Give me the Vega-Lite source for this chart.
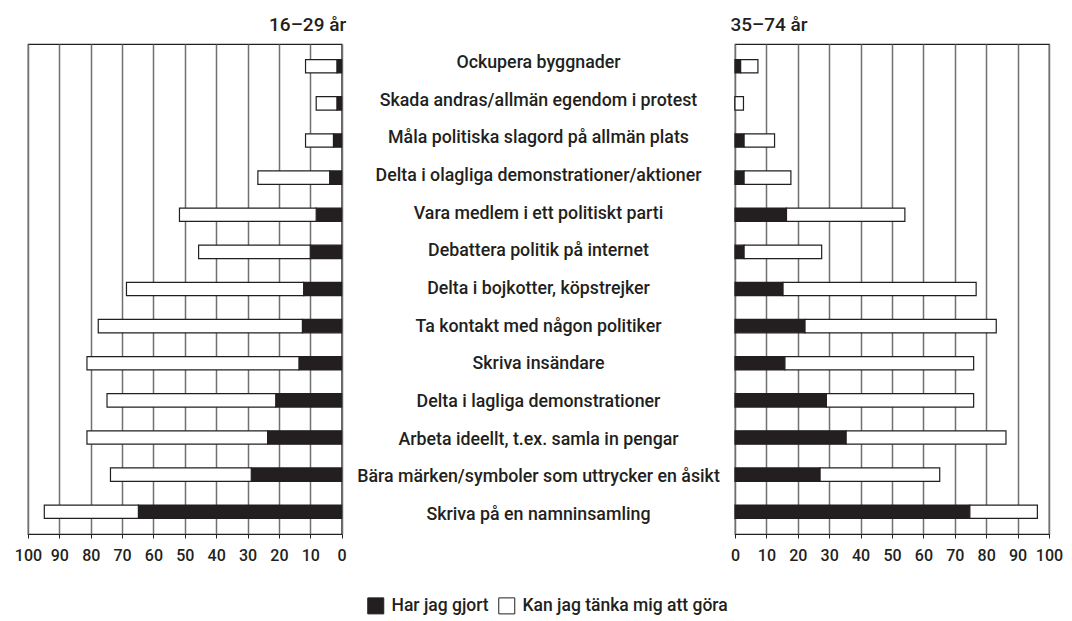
{
  "$schema": "https://vega.github.io/schema/vega-lite/v6.json",
  "padding": {"left": 13, "top": 15, "right": 5, "bottom": 0},
  "background": "white",
  "bounds": "flush",
  "spacing": 0,
  "config": {
    "font": "Roboto",
    "view": {"stroke": "#231f20", "strokeWidth": 1.2},
    "axis": {
      "labelFont": "Roboto",
      "labelFontSize": 16,
      "labelFontWeight": 500,
      "labelColor": "#231f20",
      "labelOverlap": false,
      "labelFlush": false,
      "grid": true,
      "gridColor": "#707070",
      "gridWidth": 1.5,
      "domainColor": "#231f20",
      "domainWidth": 1.2,
      "tickColor": "#231f20",
      "tickSize": 4,
      "labelPadding": 9
    },
    "title": {"font": "Roboto", "fontSize": 19, "fontWeight": 500, "color": "#231f20"}
  },
  "datasets": {
    "rows": [
      {"aktivitet": "Ockupera byggnader", "grupp": "16–29 år", "typ": "Har jag gjort", "ordning": 1, "andel": 1.5},
      {"aktivitet": "Ockupera byggnader", "grupp": "16–29 år", "typ": "Kan jag tänka mig att göra", "ordning": 2, "andel": 10},
      {"aktivitet": "Skada andras/allmän egendom i protest", "grupp": "16–29 år", "typ": "Har jag gjort", "ordning": 1, "andel": 1.5},
      {"aktivitet": "Skada andras/allmän egendom i protest", "grupp": "16–29 år", "typ": "Kan jag tänka mig att göra", "ordning": 2, "andel": 6.6},
      {"aktivitet": "Måla politiska slagord på allmän plats", "grupp": "16–29 år", "typ": "Har jag gjort", "ordning": 1, "andel": 2.6},
      {"aktivitet": "Måla politiska slagord på allmän plats", "grupp": "16–29 år", "typ": "Kan jag tänka mig att göra", "ordning": 2, "andel": 8.9},
      {"aktivitet": "Delta i olagliga demonstrationer/aktioner", "grupp": "16–29 år", "typ": "Har jag gjort", "ordning": 1, "andel": 3.8},
      {"aktivitet": "Delta i olagliga demonstrationer/aktioner", "grupp": "16–29 år", "typ": "Kan jag tänka mig att göra", "ordning": 2, "andel": 22.9},
      {"aktivitet": "Vara medlem i ett  politiskt parti", "grupp": "16–29 år", "typ": "Har jag gjort", "ordning": 1, "andel": 8.1},
      {"aktivitet": "Vara medlem i ett  politiskt parti", "grupp": "16–29 år", "typ": "Kan jag tänka mig att göra", "ordning": 2, "andel": 43.6},
      {"aktivitet": "Debattera politik på internet", "grupp": "16–29 år", "typ": "Har jag gjort", "ordning": 1, "andel": 10},
      {"aktivitet": "Debattera politik på internet", "grupp": "16–29 år", "typ": "Kan jag tänka mig att göra", "ordning": 2, "andel": 35.6},
      {"aktivitet": "Delta i bojkotter, köpstrejker", "grupp": "16–29 år", "typ": "Har jag gjort", "ordning": 1, "andel": 12.1},
      {"aktivitet": "Delta i bojkotter, köpstrejker", "grupp": "16–29 år", "typ": "Kan jag tänka mig att göra", "ordning": 2, "andel": 56.5},
      {"aktivitet": "Ta kontakt med någon politiker", "grupp": "16–29 år", "typ": "Har jag gjort", "ordning": 1, "andel": 12.5},
      {"aktivitet": "Ta kontakt med någon politiker", "grupp": "16–29 år", "typ": "Kan jag tänka mig att göra", "ordning": 2, "andel": 65.1},
      {"aktivitet": "Skriva insändare", "grupp": "16–29 år", "typ": "Har jag gjort", "ordning": 1, "andel": 13.6},
      {"aktivitet": "Skriva insändare", "grupp": "16–29 år", "typ": "Kan jag tänka mig att göra", "ordning": 2, "andel": 67.6},
      {"aktivitet": "Delta i lagliga demonstrationer", "grupp": "16–29 år", "typ": "Har jag gjort", "ordning": 1, "andel": 21},
      {"aktivitet": "Delta i lagliga demonstrationer", "grupp": "16–29 år", "typ": "Kan jag tänka mig att göra", "ordning": 2, "andel": 53.8},
      {"aktivitet": "Arbeta ideellt, t.ex. samla in pengar", "grupp": "16–29 år", "typ": "Har jag gjort", "ordning": 1, "andel": 23.6},
      {"aktivitet": "Arbeta ideellt, t.ex. samla in pengar", "grupp": "16–29 år", "typ": "Kan jag tänka mig att göra", "ordning": 2, "andel": 57.6},
      {"aktivitet": "Bära märken/symboler som uttrycker en åsikt", "grupp": "16–29 år", "typ": "Har jag gjort", "ordning": 1, "andel": 28.8},
      {"aktivitet": "Bära märken/symboler som uttrycker en åsikt", "grupp": "16–29 år", "typ": "Kan jag tänka mig att göra", "ordning": 2, "andel": 44.9},
      {"aktivitet": "Skriva på en namninsamling", "grupp": "16–29 år", "typ": "Har jag gjort", "ordning": 1, "andel": 64.8},
      {"aktivitet": "Skriva på en namninsamling", "grupp": "16–29 år", "typ": "Kan jag tänka mig att göra", "ordning": 2, "andel": 30},

      {"aktivitet": "Ockupera byggnader", "grupp": "35–74 år", "typ": "Har jag gjort", "ordning": 1, "andel": 1.8},
      {"aktivitet": "Ockupera byggnader", "grupp": "35–74 år", "typ": "Kan jag tänka mig att göra", "ordning": 2, "andel": 5.5},
      {"aktivitet": "Skada andras/allmän egendom i protest", "grupp": "35–74 år", "typ": "Har jag gjort", "ordning": 1, "andel": 0},
      {"aktivitet": "Skada andras/allmän egendom i protest", "grupp": "35–74 år", "typ": "Kan jag tänka mig att göra", "ordning": 2, "andel": 2.7},
      {"aktivitet": "Måla politiska slagord på allmän plats", "grupp": "35–74 år", "typ": "Har jag gjort", "ordning": 1, "andel": 2.9},
      {"aktivitet": "Måla politiska slagord på allmän plats", "grupp": "35–74 år", "typ": "Kan jag tänka mig att göra", "ordning": 2, "andel": 9.7},
      {"aktivitet": "Delta i olagliga demonstrationer/aktioner", "grupp": "35–74 år", "typ": "Har jag gjort", "ordning": 1, "andel": 2.9},
      {"aktivitet": "Delta i olagliga demonstrationer/aktioner", "grupp": "35–74 år", "typ": "Kan jag tänka mig att göra", "ordning": 2, "andel": 14.9},
      {"aktivitet": "Vara medlem i ett  politiskt parti", "grupp": "35–74 år", "typ": "Har jag gjort", "ordning": 1, "andel": 16.4},
      {"aktivitet": "Vara medlem i ett  politiskt parti", "grupp": "35–74 år", "typ": "Kan jag tänka mig att göra", "ordning": 2, "andel": 37.7},
      {"aktivitet": "Debattera politik på internet", "grupp": "35–74 år", "typ": "Har jag gjort", "ordning": 1, "andel": 2.9},
      {"aktivitet": "Debattera politik på internet", "grupp": "35–74 år", "typ": "Kan jag tänka mig att göra", "ordning": 2, "andel": 24.7},
      {"aktivitet": "Delta i bojkotter, köpstrejker", "grupp": "35–74 år", "typ": "Har jag gjort", "ordning": 1, "andel": 15.3},
      {"aktivitet": "Delta i bojkotter, köpstrejker", "grupp": "35–74 år", "typ": "Kan jag tänka mig att göra", "ordning": 2, "andel": 61.5},
      {"aktivitet": "Ta kontakt med någon politiker", "grupp": "35–74 år", "typ": "Har jag gjort", "ordning": 1, "andel": 22.3},
      {"aktivitet": "Ta kontakt med någon politiker", "grupp": "35–74 år", "typ": "Kan jag tänka mig att göra", "ordning": 2, "andel": 60.9},
      {"aktivitet": "Skriva insändare", "grupp": "35–74 år", "typ": "Har jag gjort", "ordning": 1, "andel": 15.9},
      {"aktivitet": "Skriva insändare", "grupp": "35–74 år", "typ": "Kan jag tänka mig att göra", "ordning": 2, "andel": 60.1},
      {"aktivitet": "Delta i lagliga demonstrationer", "grupp": "35–74 år", "typ": "Har jag gjort", "ordning": 1, "andel": 29.1},
      {"aktivitet": "Delta i lagliga demonstrationer", "grupp": "35–74 år", "typ": "Kan jag tänka mig att göra", "ordning": 2, "andel": 46.9},
      {"aktivitet": "Arbeta ideellt, t.ex. samla in pengar", "grupp": "35–74 år", "typ": "Har jag gjort", "ordning": 1, "andel": 35.4},
      {"aktivitet": "Arbeta ideellt, t.ex. samla in pengar", "grupp": "35–74 år", "typ": "Kan jag tänka mig att göra", "ordning": 2, "andel": 50.9},
      {"aktivitet": "Bära märken/symboler som uttrycker en åsikt", "grupp": "35–74 år", "typ": "Har jag gjort", "ordning": 1, "andel": 27.1},
      {"aktivitet": "Bära märken/symboler som uttrycker en åsikt", "grupp": "35–74 år", "typ": "Kan jag tänka mig att göra", "ordning": 2, "andel": 38.1},
      {"aktivitet": "Skriva på en namninsamling", "grupp": "35–74 år", "typ": "Har jag gjort", "ordning": 1, "andel": 74.8},
      {"aktivitet": "Skriva på en namninsamling", "grupp": "35–74 år", "typ": "Kan jag tänka mig att göra", "ordning": 2, "andel": 21.5}
    ]
  },
  "resolve": {"scale": {"color": "shared"}},
  "hconcat": [
    {
      "width": 313.6,
      "height": 490,
      "title": {"text": "16–29 år", "anchor": "end", "offset": 9},
      "data": {"name": "rows"},
      "transform": [{"filter": "datum.grupp === '16–29 år'"}],
      "mark": {"type": "bar", "stroke": "#231f20", "strokeWidth": 1.2},
      "encoding": {
        "y": {
          "field": "aktivitet", "type": "nominal", "axis": null,
          "sort": ["Ockupera byggnader", "Skada andras/allmän egendom i protest", "Måla politiska slagord på allmän plats", "Delta i olagliga demonstrationer/aktioner", "Vara medlem i ett  politiskt parti", "Debattera politik på internet", "Delta i bojkotter, köpstrejker", "Ta kontakt med någon politiker", "Skriva insändare", "Delta i lagliga demonstrationer", "Arbeta ideellt, t.ex. samla in pengar", "Bära märken/symboler som uttrycker en åsikt", "Skriva på en namninsamling"],
          "scale": {"paddingInner": 0.64, "paddingOuter": 0.42}
        },
        "x": {
          "field": "andel", "type": "quantitative", "stack": "zero",
          "scale": {"domain": [0, 100], "reverse": true, "nice": false},
          "axis": {"title": null, "values": [0, 10, 20, 30, 40, 50, 60, 70, 80, 90, 100]}
        },
        "color": {
          "field": "typ", "type": "nominal",
          "scale": {"domain": ["Har jag gjort", "Kan jag tänka mig att göra"], "range": ["#231f20", "#ffffff"]},
          "legend": {
            "title": null, "orient": "none", "direction": "horizontal",
            "legendX": 339, "legendY": 553,
            "symbolType": "square", "symbolSize": 256, "symbolStrokeColor": "#808080", "symbolStrokeWidth": 1,
            "labelFont": "Roboto", "labelFontSize": 17.5, "labelFontWeight": 500, "labelColor": "#231f20",
            "labelLimit": 400, "columnPadding": 7, "labelOffset": 7
          }
        },
        "order": {"field": "ordning", "type": "quantitative"}
      }
    },
    {
      "width": 393,
      "height": 490,
      "view": {"stroke": null},
      "data": {"name": "rows"},
      "transform": [{"filter": "datum.grupp === '16–29 år' && datum.ordning === 1"}],
      "mark": {"type": "text", "font": "Roboto", "fontSize": 17.8, "fontWeight": 500, "color": "#231f20", "align": "center", "baseline": "middle"},
      "encoding": {
        "y": {
          "field": "aktivitet", "type": "nominal", "axis": null,
          "sort": ["Ockupera byggnader", "Skada andras/allmän egendom i protest", "Måla politiska slagord på allmän plats", "Delta i olagliga demonstrationer/aktioner", "Vara medlem i ett  politiskt parti", "Debattera politik på internet", "Delta i bojkotter, köpstrejker", "Ta kontakt med någon politiker", "Skriva insändare", "Delta i lagliga demonstrationer", "Arbeta ideellt, t.ex. samla in pengar", "Bära märken/symboler som uttrycker en åsikt", "Skriva på en namninsamling"],
          "scale": {"paddingInner": 0.64, "paddingOuter": 0.42}
        },
        "text": {"field": "aktivitet", "type": "nominal"}
      }
    },
    {
      "width": 314,
      "height": 490,
      "title": {"text": "35–74 år", "anchor": "start", "offset": 9},
      "data": {"name": "rows"},
      "transform": [{"filter": "datum.grupp === '35–74 år'"}],
      "mark": {"type": "bar", "stroke": "#231f20", "strokeWidth": 1.2},
      "encoding": {
        "y": {
          "field": "aktivitet", "type": "nominal", "axis": null,
          "sort": ["Ockupera byggnader", "Skada andras/allmän egendom i protest", "Måla politiska slagord på allmän plats", "Delta i olagliga demonstrationer/aktioner", "Vara medlem i ett  politiskt parti", "Debattera politik på internet", "Delta i bojkotter, köpstrejker", "Ta kontakt med någon politiker", "Skriva insändare", "Delta i lagliga demonstrationer", "Arbeta ideellt, t.ex. samla in pengar", "Bära märken/symboler som uttrycker en åsikt", "Skriva på en namninsamling"],
          "scale": {"paddingInner": 0.64, "paddingOuter": 0.42}
        },
        "x": {
          "field": "andel", "type": "quantitative", "stack": "zero",
          "scale": {"domain": [0, 100], "nice": false},
          "axis": {"title": null, "values": [0, 10, 20, 30, 40, 50, 60, 70, 80, 90, 100]}
        },
        "color": {
          "field": "typ", "type": "nominal",
          "scale": {"domain": ["Har jag gjort", "Kan jag tänka mig att göra"], "range": ["#231f20", "#ffffff"]}
        },
        "order": {"field": "ordning", "type": "quantitative"}
      }
    }
  ]
}
